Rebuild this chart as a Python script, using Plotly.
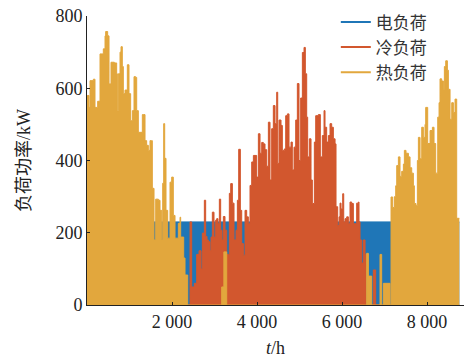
import plotly.graph_objects as go

# ---------------- data ----------------
elec_hours = [0, 1577, 2424, 4000, 6000, 7153, 8760]
elec_load = [230, 230, 230, 230, 230, 230, 230]

cool_hours = [0, 1741, 1760, 1875, 1900, 2424, 2463, 2525, 2581, 2636, 2683, 2714, 2761, 2792,
              2824, 2855, 2894, 2918, 2949, 2988, 3027, 3051, 3082, 3114, 3145, 3177, 3208,
              3247, 3287, 3326, 3349, 3381, 3420, 3459, 3506, 3538, 3569, 3608, 3640, 3679,
              3718, 3757, 3796, 3835, 3875, 3914, 3953, 3992, 4032, 4071, 4110, 4149, 4188,
              4228, 4267, 4306, 4345, 4384, 4424, 4463, 4487, 4518, 4565, 4596, 4643, 4675,
              4714, 4753, 4800, 4831, 4871, 4910, 4949, 4988, 5027, 5067, 5106, 5137, 5169,
              5192, 5231, 5271, 5302, 5349, 5381, 5443, 5490, 5537, 5577, 5600, 5639, 5679,
              5718, 5757, 5796, 5836, 5859, 5898, 5930, 5953, 5977, 6016, 6040, 6071, 6110,
              6149, 6188, 6228, 6267, 6306, 6345, 6385, 6400, 6424, 6463, 6502, 6542, 6565,
              6737, 6792, 7404, 7420, 7710, 7750, 8760]
cool_load = [0, 15, 0, 25, 0, 230, 50, 60, 140, 150, 100, 199, 290, 190,
             180, 175, 150, 188, 257, 188, 235, 239, 225, 293, 207, 180, 245,
             207, 140, 140, 309, 336, 282, 180, 207, 290, 431, 262, 170, 138,
             262, 244, 225, 331, 396, 414, 414, 354, 474, 420, 450, 446, 430,
             384, 506, 346, 488, 552, 502, 589, 392, 512, 497, 428, 432, 524,
             529, 437, 451, 374, 437, 512, 613, 400, 573, 699, 713, 640, 520,
             410, 460, 346, 281, 451, 524, 527, 410, 469, 538, 492, 451, 469,
             502, 492, 460, 446, 272, 220, 244, 282, 266, 308, 230, 239, 244,
             225, 285, 281, 225, 225, 282, 285, 230, 180, 116, 180, 140, 0,
             97, 0, 15, 0, 25, 0, 0]

heat_hours = [0, 16, 47, 71, 149, 188, 251, 306, 384, 424, 439, 486, 518, 565, 643, 698,
              714, 737, 777, 800, 831, 855, 894, 949, 988, 1027, 1067, 1106, 1145, 1169,
              1208, 1271, 1302, 1334, 1365, 1404, 1443, 1482, 1514, 1537, 1577, 1616, 1679,
              1718, 1757, 1781, 1804, 1828, 1859, 1898, 1953, 1992, 2031, 2071, 2149, 2188,
              2204, 2275, 2306, 2369, 3169, 3220, 3287, 6580, 6620, 6698, 6894, 6933, 6973,
              7130, 7153, 7192, 7232, 7263, 7287, 7326, 7365, 7404, 7444, 7467, 7506, 7562,
              7601, 7640, 7679, 7702, 7741, 7773, 7797, 7836, 7875, 7914, 7953, 7969, 8016,
              8071, 8126, 8165, 8204, 8252, 8283, 8306, 8345, 8385, 8408, 8440, 8479, 8502,
              8542, 8581, 8620, 8659, 8698, 8760]
heat_load = [580, 580, 547, 621, 625, 547, 564, 695, 709, 745, 757, 745, 612, 672, 670, 640,
             538, 640, 700, 715, 660, 585, 595, 665, 585, 510, 538, 632, 630, 538,
             478, 478, 527, 527, 455, 442, 428, 455, 455, 323, 180, 293, 290,
             262, 180, 337, 502, 406, 262, 185, 340, 354, 248, 185, 226, 243,
             188, 130, 83, 0, 50, 147, 0, 143, 80, 0, 140, 0, 60,
             0, 299, 270, 300, 330, 386, 410, 356, 370, 390, 428, 420, 410,
             380, 365, 330, 281, 275, 400, 464, 405, 492, 464, 500, 547, 447,
             483, 492, 447, 365, 520, 560, 626, 620, 597, 660, 676, 650, 597,
             514, 560, 533, 570, 240, 240]

series_names = ["电负荷", "冷负荷", "热负荷"]
series_colors = ["#1f76b7", "#d2572e", "#e2a73d"]

x_tickvals = [2000, 4000, 6000, 8000]
x_ticktext = ["2 000", "4 000", "6 000", "8 000"]
y_tickvals = [0, 200, 400, 600, 800]

# ---------------- figure ----------------
fig = go.Figure()
datasets = [(elec_hours, elec_load), (cool_hours, cool_load), (heat_hours, heat_load)]
for (hx, hy), name, col in zip(datasets, series_names, series_colors):
    fig.add_trace(go.Scatter(
        x=hx, y=hy, mode="lines", line=dict(color=col, width=1, shape="hv"),
        fill="tozeroy", fillcolor=col, name=name, showlegend=False, hoverinfo="skip"))
for name, col in zip(series_names, series_colors):
    fig.add_trace(go.Scatter(
        x=[None], y=[None], mode="lines", line=dict(color=col, width=2), name=name))

serif = "Liberation Serif, Times New Roman, Noto Sans CJK SC, serif"
fig.update_layout(
    width=464, height=358,
    margin=dict(l=87, r=0, t=16, b=53, autoexpand=False),
    paper_bgcolor="white", plot_bgcolor="white",
    font=dict(family=serif, size=18, color="#222222"),
    showlegend=True,
    legend=dict(x=0.66, y=1.04, xanchor="left", yanchor="top",
                bgcolor="rgba(0,0,0,0)", font=dict(size=17, color="#333333",
                family="Noto Sans CJK SC, sans-serif"),
                tracegroupgap=0, itemwidth=30),
    xaxis=dict(range=[0, 8870], tickvals=x_tickvals, ticktext=x_ticktext,
               ticks="inside", ticklen=3, tickcolor="#222222",
               showline=True, linecolor="#222222", linewidth=1,
               showgrid=False, zeroline=False, automargin=False,
               ticklabeloverflow="allow",
               title=dict(text="<i>t</i>/h", standoff=10, font=dict(size=18))),
    yaxis=dict(range=[0, 800], tickvals=y_tickvals,
               ticks="inside", ticklen=3, tickcolor="#222222",
               showline=True, linecolor="#222222", linewidth=1,
               showgrid=False, zeroline=False, automargin=False,
               ticklabeloverflow="allow",
               title=dict(text="负荷功率/kW", standoff=20,
                          font=dict(size=18, family="Liberation Serif, Noto Sans CJK SC, serif"))),
)

fig.write_html("out.html", config={"displayModeBar": False},
               post_script="document.body.style.margin='0';document.body.style.padding='0';")
